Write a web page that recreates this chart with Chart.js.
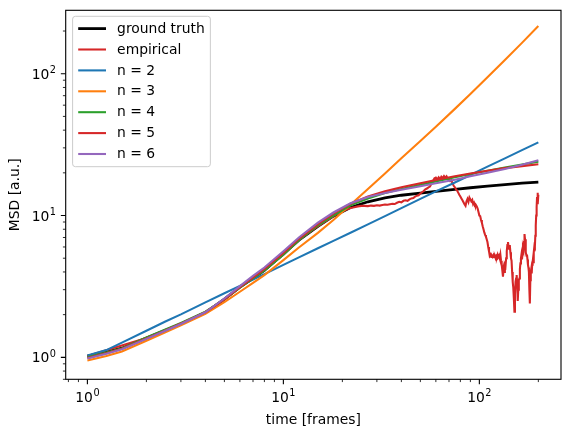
<!DOCTYPE html>
<html lang="en">
<head>
<meta charset="UTF-8">
<title>MSD fits</title>
<style>
  html, body { margin: 0; padding: 0; background: #fff; }
  #wrap { width: 570px; height: 437px; }
</style>
</head>
<body>
<div id="wrap"><canvas id="msdChart" width="570" height="437"></canvas></div>

<script src="https://cdn.jsdelivr.net/npm/chart.js"></script>
<script>
// time points where the fitted / ground-truth curves are sampled (frames)
const fitTimes = [1, 1.25, 1.5, 2, 2.5, 3, 4, 5, 6, 7, 8, 10, 12, 15, 18, 22, 27, 33, 40, 50, 60, 75, 90, 110, 135, 165, 200];

const groundTruth = [1.02, 1.09, 1.16, 1.37, 1.55, 1.72, 2.07, 2.57, 3.13, 3.6, 4.1, 5.35, 6.7, 8.4, 9.9, 11.4, 12.5, 13.3, 13.9, 14.4, 14.8, 15.3, 15.7, 16.1, 16.5, 16.9, 17.2];
const fitN2 = [1.03, 1.125, 1.27, 1.54, 1.79, 2.01, 2.44, 2.83, 3.19, 3.54, 3.86, 4.49, 5.07, 5.88, 6.63, 7.56, 8.67, 9.9, 11.27, 13.1, 14.8, 17.1, 19.3, 22.1, 25.3, 28.9, 32.8];
const fitN3 = [0.95, 1.02, 1.1, 1.31, 1.5, 1.68, 2.03, 2.45, 2.9, 3.35, 3.8, 4.85, 5.95, 7.55, 9.3, 11.9, 15.4, 19.8, 25.3, 33.5, 42.3, 56.5, 72, 94.5, 125, 165, 217];
const fitN4 = [1.0, 1.08, 1.16, 1.38, 1.57, 1.75, 2.1, 2.56, 3.1, 3.6, 4.1, 5.3, 6.7, 8.5, 10.0, 11.8, 13.2, 14.4, 15.4, 16.5, 17.4, 18.6, 19.6, 20.7, 21.8, 22.9, 24.0];
const fitN5 = [0.99, 1.07, 1.15, 1.36, 1.55, 1.73, 2.08, 2.56, 3.12, 3.65, 4.2, 5.45, 6.85, 8.7, 10.3, 12.1, 13.6, 14.8, 15.8, 16.9, 17.8, 18.9, 19.8, 20.7, 21.6, 22.3, 23.0];
const fitN6 = [0.98, 1.06, 1.14, 1.35, 1.54, 1.72, 2.08, 2.6, 3.18, 3.75, 4.3, 5.6, 7.0, 8.9, 10.5, 12.2, 13.5, 14.4, 15.2, 16.1, 16.9, 17.9, 18.9, 20.0, 21.3, 22.8, 24.5];

// empirical MSD, one value per lag frame
const empiricalTimes = [
  1, 2, 3, 4, 5, 6, 7, 8, 9, 10, 11, 12, 13, 14, 15, 16, 17, 18, 19, 20,
  21, 22, 23, 24, 25, 26, 27, 28, 29, 30, 31, 32, 33, 34, 35, 36, 37, 38, 39, 40,
  41, 42, 43, 44, 45, 46, 47, 48, 49, 50, 51, 52, 53, 54, 55, 56, 57, 58, 59, 60,
  61, 62, 63, 64, 65, 66, 67, 68, 69, 70, 71, 72, 73, 74, 75, 76, 77, 78, 79, 80,
  81, 82, 83, 84, 85, 86, 87, 88, 89, 90, 91, 92, 93, 94, 95, 96, 97, 98, 99, 100,
  101, 102, 103, 104, 105, 106, 107, 108, 109, 110, 111, 112, 113, 114, 115, 116, 117, 118, 119, 120,
  121, 122, 123, 124, 125, 126, 127, 128, 129, 130, 131, 132, 133, 134, 135, 136, 137, 138, 139, 140,
  141, 142, 143, 144, 145, 146, 147, 148, 149, 150, 151, 152, 153, 154, 155, 156, 157, 158, 159, 160,
  161, 162, 163, 164, 165, 166, 167, 168, 169, 170, 171, 172, 173, 174, 175, 176, 177, 178, 179, 180,
  181, 182, 183, 184, 185, 186, 187, 188, 189, 190, 191, 192, 193, 194, 195, 196, 197, 198, 199, 200
];
const empirical = [
  1.02, 1.37, 1.72, 2.07, 2.56, 3.12, 3.62, 4.12, 4.7, 5.3, 6.0, 6.7, 7.3, 7.85, 8.4, 8.9, 9.4, 9.9, 10.3, 10.7,
  11.0, 11.3, 11.45, 11.6, 11.7, 11.7, 11.65, 11.75, 11.7, 11.8, 11.75, 11.85, 11.95, 11.9, 12.0, 12.1, 12.05, 12.3, 12.5, 12.4,
  12.7, 12.8, 12.7, 13.0, 13.2, 13.3, 13.6, 13.8, 13.9, 14.3, 14.6, 14.9, 15.3, 15.5, 15.8, 16.0, 16.8, 17.5, 18.3, 18.5,
  18.0, 18.6, 18.0, 18.8, 18.4, 19.0, 18.5, 18.9, 18.2, 18.0, 17.5, 17.8, 16.8, 16.2, 15.8, 15.3, 15.0, 14.5, 14.0, 13.6,
  13.2, 12.8, 12.4, 12.0, 11.7, 12.6, 13.1, 12.5, 13.4, 13.0, 12.6, 12.9, 12.0, 12.3, 11.8, 11.9, 11.6, 11.2, 10.6, 10.0,
  9.9, 9.3, 8.9, 8.4, 8.0, 7.6, 7.3, 7.1, 6.8, 6.5, 6.0, 5.6, 5.2, 5.3, 5.1, 5.2, 5.1, 5.25, 5.1, 5.15,
  5.0, 5.2, 5.1, 5.3, 5.1, 5.2, 5.0, 5.3, 4.8, 4.5, 4.1, 3.7, 4.2, 4.0, 4.5, 4.4, 5.0, 5.6, 6.2, 6.5,
  6.0, 5.8, 6.2, 5.5, 5.0, 4.8, 4.0, 3.4, 3.1, 2.6, 2.1, 2.8, 3.4, 3.6, 3.8, 3.3, 2.5, 3.0, 3.5, 3.6,
  4.2, 4.6, 5.0, 5.3, 4.9, 5.4, 5.9, 5.7, 6.5, 7.4, 6.8, 6.0, 5.5, 5.2, 5.3, 4.9, 4.5, 4.3, 4.0, 3.0,
  2.4, 3.5, 4.0, 4.2, 3.9, 4.5, 4.7, 5.0, 4.6, 5.5, 6.1, 6.0, 7.2, 8.5, 10.0, 11.5, 13.5, 14.5, 12.0, 14.0
];

const seriesLabels = ['ground truth', 'empirical', 'n = 2', 'n = 3', 'n = 4', 'n = 5', 'n = 6'];

// major ticks (decades) and their exponent labels
const xMajorTicks = [1, 10, 100];
const yMajorTicks = [1, 10, 100];
const tickExponents = ['0', '1', '2'];

const FONT = 'DejaVu Sans';
const FS = 13.89;

function points(xs, ys) {
  return xs.map((t, i) => ({ x: t, y: ys[i] }));
}

function minorTicks(scale) {
  const out = [];
  for (let e = -1; e <= 3; e++) {
    for (let m = 2; m <= 9; m++) {
      const v = m * Math.pow(10, e);
      if (v > scale.min && v < scale.max) out.push(v);
    }
  }
  return out;
}

// draws "10" with a superscript exponent, like matplotlib mathtext
function drawPow(ctx, px, baseY, exp, align) {
  ctx.font = FS + 'px "' + FONT + '"';
  const w10 = ctx.measureText('10').width;
  ctx.font = (FS * 0.7) + 'px "' + FONT + '"';
  const wExp = ctx.measureText(exp).width;
  const total = w10 + wExp + 0.5;
  const start = align === 'center' ? px - total / 2 : px - total;
  ctx.textAlign = 'left';
  ctx.textBaseline = 'alphabetic';
  ctx.font = FS + 'px "' + FONT + '"';
  ctx.fillText('10', start, baseY);
  ctx.font = (FS * 0.7) + 'px "' + FONT + '"';
  ctx.fillText(exp, start + w10 + 0.5, baseY - 5.6);
}

const mplAxes = {
  id: 'mplAxes',
  afterDatasetsDraw(chart) {
    const { ctx, chartArea: a } = chart;
    const xs = chart.scales.x, ys = chart.scales.y;
    ctx.save();
    ctx.fillStyle = '#000';
    ctx.strokeStyle = '#000';

    // minor ticks
    ctx.lineWidth = 0.83;
    ctx.beginPath();
    minorTicks(xs).forEach(v => {
      const p = xs.getPixelForValue(v);
      ctx.moveTo(p, a.bottom); ctx.lineTo(p, a.bottom + 2.78);
    });
    minorTicks(ys).forEach(v => {
      const p = ys.getPixelForValue(v);
      ctx.moveTo(a.left, p); ctx.lineTo(a.left - 2.78, p);
    });
    ctx.stroke();

    // major ticks
    ctx.lineWidth = 1.11;
    ctx.beginPath();
    xMajorTicks.forEach(v => {
      const p = xs.getPixelForValue(v);
      ctx.moveTo(p, a.bottom); ctx.lineTo(p, a.bottom + 4.86);
    });
    yMajorTicks.forEach(v => {
      const p = ys.getPixelForValue(v);
      ctx.moveTo(a.left, p); ctx.lineTo(a.left - 4.86, p);
    });
    ctx.stroke();

    // spines
    ctx.lineWidth = 1.11;
    ctx.strokeRect(a.left, a.top, a.right - a.left, a.bottom - a.top);

    // tick labels
    xMajorTicks.forEach((v, i) => {
      drawPow(ctx, xs.getPixelForValue(v), a.bottom + 22.5, tickExponents[i], 'center');
    });
    yMajorTicks.forEach((v, i) => {
      drawPow(ctx, a.left - 9.7, ys.getPixelForValue(v) + 5.0, tickExponents[i], 'right');
    });

    // legend
    const datasets = chart.data.datasets;
    ctx.font = FS + 'px "' + FONT + '"';
    const textW = Math.max(...datasets.map(d => ctx.measureText(d.label).width));
    const bx = a.left + 6.9, by = a.top + 6.0;
    const bw = 5.6 + 27.8 + 11.1 + textW + 5.6;
    const bh = 150.4;
    ctx.beginPath();
    ctx.roundRect(bx, by, bw, bh, 2.8);
    ctx.fillStyle = 'rgba(255,255,255,0.8)';
    ctx.fill();
    ctx.strokeStyle = '#cccccc';
    ctx.lineWidth = 1;
    ctx.stroke();
    datasets.forEach((d, i) => {
      const cy = by + 12.3 + i * 20.9;
      ctx.beginPath();
      ctx.strokeStyle = d.borderColor;
      ctx.lineWidth = d.borderWidth;
      ctx.moveTo(bx + 5.6, cy);
      ctx.lineTo(bx + 5.6 + 27.8, cy);
      ctx.stroke();
      ctx.fillStyle = '#000';
      ctx.textAlign = 'left';
      ctx.textBaseline = 'middle';
      ctx.fillText(d.label, bx + 5.6 + 27.8 + 11.1, cy + 0.5);
    });
    ctx.restore();
  }
};

const colors = ['#000000', '#d62728', '#1f77b4', '#ff7f0e', '#2ca02c', '#d62728', '#9467bd'];
const widths = [2.8, 2.08, 2.08, 2.08, 2.08, 2.08, 2.08];
const seriesData = [
  points(fitTimes, groundTruth),
  points(empiricalTimes, empirical),
  points(fitTimes, fitN2),
  points(fitTimes, fitN3),
  points(fitTimes, fitN4),
  points(fitTimes, fitN5),
  points(fitTimes, fitN6)
];

Chart.defaults.font.family = FONT;
Chart.defaults.color = '#000';

new Chart(document.getElementById('msdChart'), {
  type: 'line',
  data: {
    datasets: seriesData.map((pts, i) => ({
      label: seriesLabels[i],
      data: pts,
      borderColor: colors[i],
      backgroundColor: colors[i],
      borderWidth: widths[i],
      pointRadius: 0,
      tension: 0,
      fill: false,
      order: seriesData.length - i   // later series drawn on top, as in matplotlib
    }))
  },
  options: {
    responsive: false,
    animation: false,
    devicePixelRatio: 1,
    layout: { padding: { top: 10.3, right: 9, left: 0, bottom: 0 } },
    plugins: {
      legend: { display: false },
      tooltip: { enabled: false }
    },
    scales: {
      x: {
        type: 'logarithmic',
        min: 0.775,
        max: 261,
        grid: { display: false },
        border: { display: false },
        ticks: { display: false },
        title: {
          display: true,
          text: 'time [frames]',
          font: { size: FS, family: FONT },
          color: '#000',
          padding: { top: 0, bottom: 8.7 }
        },
        afterFit: s => { s.height = 57.7; }
      },
      y: {
        type: 'logarithmic',
        min: 0.72,
        max: 280,
        grid: { display: false },
        border: { display: false },
        ticks: { display: false },
        title: {
          display: true,
          text: 'MSD [a.u.]',
          font: { size: FS, family: FONT },
          color: '#000',
          padding: { top: 7.4, bottom: 0 }
        },
        afterFit: s => { s.width = 65.7; }
      }
    }
  },
  plugins: [mplAxes]
});
</script>
</body>
</html>
